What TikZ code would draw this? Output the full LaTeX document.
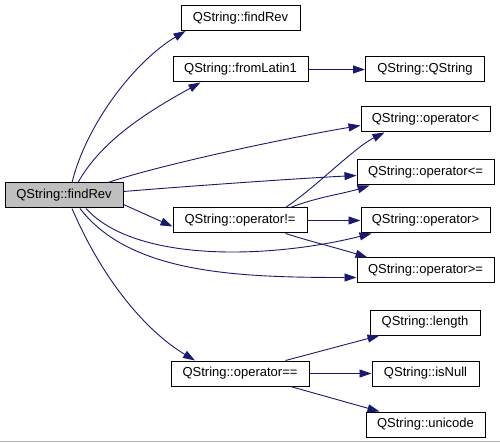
\documentclass[tikz,border=0pt]{standalone}
\usepackage{fontspec}
\setmainfont{Liberation Sans}
\usetikzlibrary{arrows.meta}
\definecolor{edgecol}{RGB}{25,25,112}
\definecolor{rootfill}{RGB}{191,191,191}
\tikzset{
  box/.style={draw=black, line width=1pt, fill=white, minimum height=25pt, inner sep=0pt,
    font=\fontsize{13}{15}\selectfont},
  rootbox/.style={box, fill=rootfill},
  edge/.style={draw=edgecol, line width=0.9pt, -{Triangle[length=12pt,width=8pt]}},
}
\begin{document}
\begin{tikzpicture}[x=1pt,y=-1pt]
\useasboundingbox (0,0) rectangle (500,443);
\draw[line width=1pt, color=black!30] (0,441.5) -- (500,441.5);

\node[rootbox, minimum width=118pt] (L) at (64,195.5) {QString::findRev};
\node[box, minimum width=119pt] (T1) at (240.5,18) {QString::findRev};
\node[box, minimum width=135pt] (F) at (240.5,69.5) {QString::fromLatin1};
\node[box, minimum width=119pt] (QS) at (425,69.5) {QString::QString};
\node[box, minimum width=129pt] (LT) at (425.5,119.5) {QString::operator<};
\node[box, minimum width=137pt] (LE) at (425.5,172.5) {QString::operator<=};
\node[box, minimum width=134pt] (NE) at (240,220.5) {QString::operator!=};
\node[box, minimum width=129pt] (GT) at (425.5,220.5) {QString::operator>};
\node[box, minimum width=137pt] (GE) at (425.5,270.5) {QString::operator>=};
\node[box, minimum width=110pt] (LEN) at (425,322.5) {QString::length};
\node[box, minimum width=138pt] (EQ) at (240,373.5) {QString::operator==};
\node[box, minimum width=107pt] (ISN) at (425.5,373.5) {QString::isNull};
\node[box, minimum width=119pt] (UNI) at (425.5,424.5) {QString::unicode};

% from root
\draw[edge] ([xshift=8pt]L.north) .. controls +(15,-60) and +(-50,30) .. ([xshift=-55pt]T1.south);
\draw[edge] ([xshift=14pt]L.north) .. controls +(25,-45) and +(-45,25) .. ([xshift=-40pt]F.south);
\draw[edge] ([xshift=44pt]L.north) .. controls +(60,-20) and +(-60,10) .. ([yshift=-6pt]LT.west);
\draw[edge] ([yshift=4pt]L.east) .. controls +(60,-5) and +(-60,3) .. ([yshift=-3pt]LE.west);
\draw[edge] ([yshift=-9pt]L.east) -- ([yshift=-6pt]NE.west);
\draw[edge] ([xshift=22pt]L.south) .. controls +(50,55) and +(-100,25) .. ([xshift=11pt]GT.south west);
\draw[edge] ([xshift=16pt]L.south) .. controls +(50,65) and +(-120,0) .. ([yshift=-7pt]GE.west);
\draw[edge] ([xshift=8pt]L.south) .. controls +(30,70) and +(-50,-30) .. ([xshift=-45pt]EQ.north);

% fromLatin1
\draw[edge] (F.east) -- (QS.west);

% operator!=
\draw[edge] ([xshift=-22pt]NE.north east) .. controls +(30,-20) and +(-30,15) .. ([xshift=24pt]LT.south west);
\draw[edge] ([xshift=-17pt]NE.north east) .. controls +(25,-10) and +(-25,8) .. ([xshift=13pt]LE.south west);
\draw[edge] (NE.east) -- (GT.west);
\draw[edge] ([xshift=-22pt]NE.south east) .. controls +(25,8) and +(-25,-8) .. ([xshift=11pt]GE.north west);

% operator==
\draw[edge] ([xshift=-24pt]EQ.north east) -- ([xshift=10pt]LEN.south west);
\draw[edge] (EQ.east) -- (ISN.west);
\draw[edge] ([xshift=-19pt]EQ.south east) -- ([xshift=14pt]UNI.north west);
\end{tikzpicture}
\end{document}
